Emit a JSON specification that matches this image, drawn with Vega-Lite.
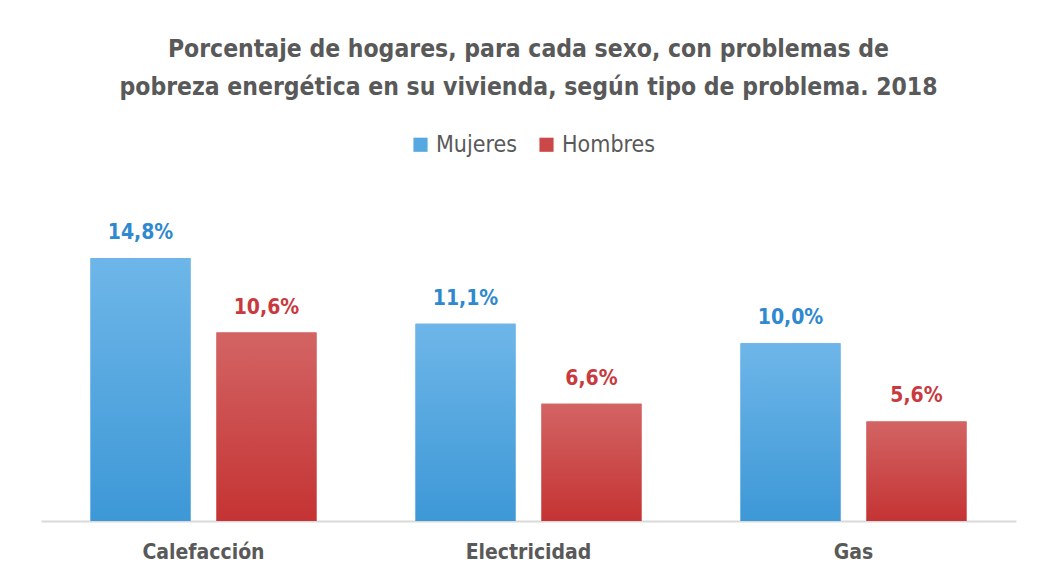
{
  "$schema": "https://vega.github.io/schema/vega-lite/v6.json",
  "width": 975,
  "height": 320,
  "autosize": {"type": "none"},
  "padding": {"left": 41, "top": 201, "right": 23, "bottom": 58},
  "background": "white",
  "config": {
    "view": {"stroke": null},
    "font": "Arial Narrow, DejaVu Sans Condensed, Liberation Sans, sans-serif",
    "locale": {"number": {"decimal": ",", "thousands": ".", "grouping": [3], "currency": ["", " €"]}}
  },
  "title": {
    "text": ["Porcentaje de hogares, para cada sexo, con problemas de", "pobreza energética en su vivienda, según tipo de problema. 2018"],
    "font": "Arial Narrow, DejaVu Sans Condensed, Liberation Sans, sans-serif",
    "fontSize": 24.5,
    "fontWeight": "bold",
    "color": "#595959",
    "lineHeight": 38,
    "anchor": "middle",
    "offset": 33
  },
  "data": {
    "values": [
      {"tipo": "Calefacción", "sexo": "Mujeres", "valor": 0.148},
      {"tipo": "Calefacción", "sexo": "Hombres", "valor": 0.106},
      {"tipo": "Electricidad", "sexo": "Mujeres", "valor": 0.111},
      {"tipo": "Electricidad", "sexo": "Hombres", "valor": 0.066},
      {"tipo": "Gas", "sexo": "Mujeres", "valor": 0.100},
      {"tipo": "Gas", "sexo": "Hombres", "valor": 0.056}
    ]
  },
  "encoding": {
    "x": {
      "field": "tipo", "type": "nominal", "sort": ["Calefacción", "Electricidad", "Gas"],
      "scale": {"paddingInner": 0, "paddingOuter": 0},
      "axis": {"title": null, "labelAngle": 0, "ticks": false, "domainColor": "#d9d9d9", "domainWidth": 2,
               "labelFontSize": 21, "labelFontWeight": "bold", "labelColor": "#595959", "labelPadding": 20}
    },
    "xOffset": {"field": "sexo", "type": "nominal", "sort": ["Mujeres", "Hombres"],
                "scale": {"paddingInner": 0.206, "paddingOuter": 0.393}},
    "y": {"field": "valor", "type": "quantitative", "scale": {"domain": [0, 0.18]}, "axis": null}
  },
  "layer": [
    {
      "mark": {"type": "bar"},
      "encoding": {
        "color": {
          "field": "sexo", "type": "nominal", "sort": ["Mujeres", "Hombres"],
          "scale": {"domain": ["Mujeres", "Hombres"], "range": ["#55a8e0", "#cc4848"]},
          "legend": {"title": null, "orient": "none", "direction": "horizontal", "legendX": 368, "legendY": -68,
                     "symbolType": "square", "symbolSize": 200, "symbolStrokeWidth": 0,
                     "labelFontSize": 23, "labelColor": "#595959",
                     "columnPadding": 18, "labelOffset": 4}
        }
      }
    },
    {
      "mark": {"type": "bar"},
      "encoding": {
        "fill": {
          "condition": {"test": "datum.sexo === 'Mujeres'",
            "value": {"gradient": "linear", "x1": 0, "y1": 0, "x2": 0, "y2": 1,
                      "stops": [{"offset": 0, "color": "#6eb6e9"}, {"offset": 1, "color": "#3d98d6"}]}},
          "value": {"gradient": "linear", "x1": 0, "y1": 0, "x2": 0, "y2": 1,
                    "stops": [{"offset": 0, "color": "#d36464"}, {"offset": 1, "color": "#c53333"}]}
        }
      }
    },
    {
      "mark": {"type": "text", "baseline": "bottom", "dy": -15, "fontSize": 21, "fontWeight": "bold"},
      "encoding": {
        "text": {"field": "valor", "type": "quantitative", "format": ".1%"},
        "color": {
          "field": "sexo", "type": "nominal",
          "scale": {"domain": ["Mujeres", "Hombres"], "range": ["#2e89cf", "#c93a3e"]},
          "legend": null
        }
      }
    }
  ],
  "resolve": {"scale": {"color": "independent"}}
}
